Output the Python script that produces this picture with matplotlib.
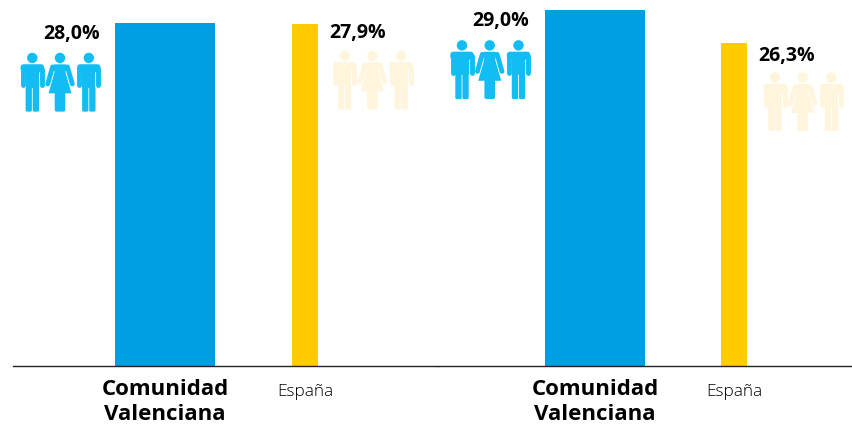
import matplotlib
matplotlib.use('Agg')
from matplotlib import pyplot as plt
from matplotlib.patches import Circle, FancyBboxPatch, Polygon, Rectangle
from matplotlib.lines import Line2D
from matplotlib.transforms import Affine2D

labels = ['Comunidad\nValenciana', 'España']
values_left = [28.0, 27.9]
values_right = [29.0, 26.3]

BLUE = '#009FE3'
YELLOW = '#FFCC00'
ICON_BLUE = '#12BDF4'
ICON_PALE = '#FFF5DC'
W, H = 853, 425
PX_PER_UNIT = 12.27
BASE = 366.2


def person(fig, x, y, color, woman=False):
    # x, y = head centre in image pixels (y from the top)
    tr = Affine2D().scale(1, -1).translate(x, H - y)
    parts = [Circle((0, 0), 5.2, fc=color, ec='none')]
    if woman:
        parts.append(Polygon([(-6, 6.4), (6, 6.4), (6.5, 9), (5.5, 14.4), (11.5, 35.4),
                              (-11.5, 35.4), (-5.5, 14.4), (-6.5, 9)], fc=color, ec='none'))
        parts.append(FancyBboxPatch((-4.3, 35), 8.6, 17.7, boxstyle='round,pad=1,rounding_size=2',
                                    fc=color, ec='none'))
        for s in (-1, 1):
            parts.append(Line2D([s * 7.4, s * 12.3], [9, 26], color=color, lw=3.5,
                                solid_capstyle='round'))
    else:
        parts.append(FancyBboxPatch((-10.2, 7.8), 20.4, 5, boxstyle='round,pad=1.5,rounding_size=3',
                                    fc=color, ec='none'))
        parts.append(Rectangle((-6.7, 10), 13.4, 20, fc=color, ec='none'))
        for s in (-1, 1):
            parts.append(Line2D([s * 9.5, s * 9.5], [11, 27.5], color=color, lw=3.5,
                                solid_capstyle='round'))
            left = 0.4 if s > 0 else -6.7
            parts.append(FancyBboxPatch((left, 29), 6.3, 24.7, boxstyle='round,pad=0,rounding_size=1.5',
                                        fc=color, ec='none'))
    for p in parts:
        p.set_transform(tr)
        p.set_clip_on(False)
        fig.add_artist(p)


def icons(fig, ax, xpos, value, dx, dy, color):
    px, py = ax.transData.transform((xpos, value))
    cy = H - py + dy
    person(fig, px + dx, cy, color)
    person(fig, px + dx + 27.7, cy, color, woman=True)
    person(fig, px + dx + 56.5, cy, color)


def panel(fig, x0, x1, centres, values):
    ax = fig.add_axes([x0 / W, (H - BASE) / H, (x1 - x0) / W, BASE / H])
    unit = centres[1] - centres[0]
    ax.set_xlim((x0 - centres[0]) / unit, (x1 - centres[0]) / unit)
    ax.set_ylim(0, BASE / PX_PER_UNIT)
    pos = [0, 1]
    ax.bar(pos, values, width=[100 / unit, 26 / unit], color=[BLUE, YELLOW])
    for s in ['top', 'left', 'right']:
        ax.spines[s].set_visible(False)
    ax.spines['bottom'].set_color('#222222')
    ax.spines['bottom'].set_linewidth(1.0)
    ax.set_yticks([])
    ax.set_xticks(pos)
    ax.set_xticklabels(labels, linespacing=1.22)
    ax.tick_params(axis='x', length=0, pad=9.5)
    ticks = ax.get_xticklabels()
    ticks[0].set_fontsize(16)
    ticks[0].set_fontweight('bold')
    ticks[1].set_fontsize(12.4)
    ticks[1].set_fontweight('light')
    ticks[1].set_color('black')
    ax.xaxis.get_major_ticks()[1].set_pad(13)
    return ax


plt.rcParams['font.family'] = ['Open Sans', 'DejaVu Sans']
fig = plt.figure(figsize=(W / 100, H / 100), dpi=100)

ax1 = panel(fig, 13, 438, [165, 305], values_left)
ax2 = panel(fig, 438, 853, [595, 734], values_right)

txt = dict(textcoords='offset pixels', fontsize=14, fontweight='bold', ha='center', va='center', color='black')
ax1.annotate('28,0%', (0, values_left[0]), xytext=(-93.5, -11), **txt)
ax1.annotate('27,9%', (1, values_left[1]), xytext=(53, -9), **txt)
ax2.annotate('29,0%', (0, values_right[0]), xytext=(-94, -11), **txt)
ax2.annotate('26,3%', (1, values_right[1]), xytext=(52.5, -13), **txt)

icons(fig, ax1, 0, values_left[0], -132.7, 35.3, ICON_BLUE)
icons(fig, ax1, 1, values_left[1], 39.7, 32, ICON_PALE)
icons(fig, ax2, 0, values_right[0], -133, 35, ICON_BLUE)
icons(fig, ax2, 1, values_right[1], 41, 34, ICON_PALE)

fig.savefig('out.png', dpi=100)
